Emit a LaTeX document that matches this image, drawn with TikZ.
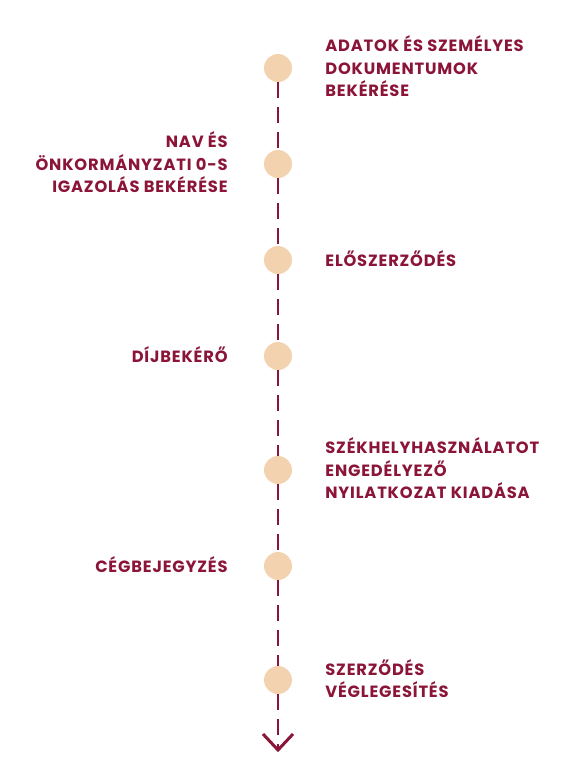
\documentclass[tikz,border=0pt]{standalone}
\usepackage{fontspec}
\setmainfont{Poppins}[BoldFont={* Bold},LetterSpace=5]
\usetikzlibrary{positioning}
\definecolor{wine}{HTML}{8A1538}
\definecolor{peach}{HTML}{F3D2B0}
\tikzset{
  dot/.style={circle,fill=peach,minimum size=28pt,inner sep=0pt},
  lbl/.style={text=wine,font=\bfseries\fontsize{16.3}{22.5}\selectfont,align=left,inner sep=0pt,yshift=1.5pt},
  lblr/.style={lbl,align=right},
  link/.style={wine,line width=1.2pt,dash pattern=on 16pt off 9pt},
}
\begin{document}
\begin{tikzpicture}[x=1pt,y=-1pt]
\useasboundingbox (0,0) rectangle (588,764);
% \draw[help lines] (0,0) grid (588,764);
\node (s1) [dot] at (278,68) {};
\node (s2) [dot] at (278,164) {};
\node (s3) [dot] at (278,260) {};
\node (s4) [dot] at (278,356) {};
\node (s5) [dot] at (278,470) {};
\node (s6) [dot] at (278,566) {};
\node (s7) [dot] at (278,680) {};
%
\node (l1) [lbl,right=33pt of s1] {ADATOK ÉS SZEMÉLYES\\DOKUMENTUMOK\\BEKÉRÉSE};
\node (l2) [lblr,left=36pt of s2] {NAV ÉS\\ÖNKORMÁNYZATI 0-S\\IGAZOLÁS BEKÉRÉSE};
\node (l3) [lbl,right=33pt of s3] {ELŐSZERZŐDÉS};
\node (l4) [lblr,left=36pt of s4] {DÍJBEKÉRŐ};
\node (l5) [lbl,right=33pt of s5] {SZÉKHELYHASZNÁLATOT\\ENGEDÉLYEZŐ\\NYILATKOZAT KIADÁSA};
\node (l6) [lblr,left=36pt of s6] {CÉGBEJEGYZÉS};
\node (l7) [lbl,right=33pt of s7] {SZERZŐDÉS\\VÉGLEGESÍTÉS};
%
\coordinate (tip) at (278,750);
\coordinate (armL) at (263,734);
\coordinate (armR) at (293,734);
\draw[link] (s1) -- (s2);
\draw[link] (s2) -- (s3);
\draw[link] (s3) -- (s4);
\draw[link] (s4) -- (s5);
\draw[link] (s5) -- (s6);
\draw[link] (s6) -- (s7);
\draw[link] (s7) -- (tip);
\draw[wine,line width=3pt] (armL) -- (tip) -- (armR);
\end{tikzpicture}
\end{document}
